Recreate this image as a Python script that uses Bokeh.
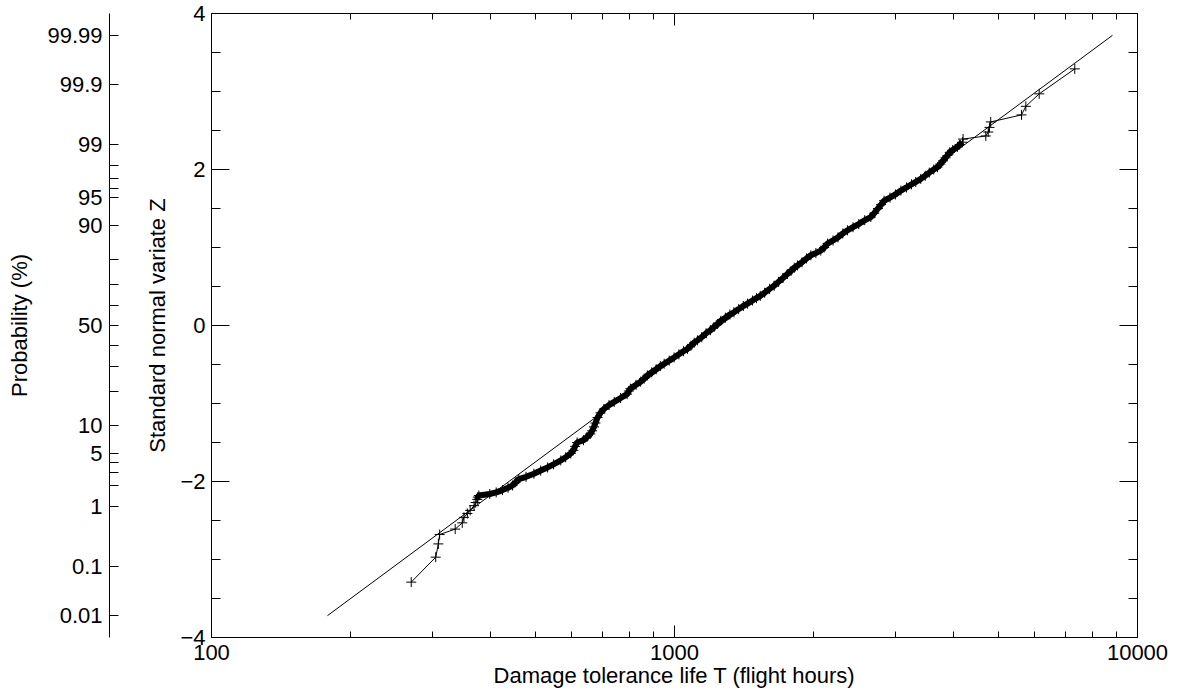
from statistics import NormalDist

from bokeh.plotting import figure
from bokeh.models import Range1d, LinearAxis, LogAxis, FixedTicker, CustomJSTickFormatter
from bokeh.embed import file_html
from bokeh.resources import INLINE

# ---------------- data ----------------
# damage tolerance life (flight hours), sorted, and its standard normal variate
life_hours = [270, 305, 309, 311, 336, 348, 351, 357, 362, 369,
              372, 375, 376, 378, 399, 412, 425, 437, 447, 454,
              461, 478, 497, 514, 532, 548, 568, 582, 597, 605,
              610, 616, 636, 647, 658, 664, 670, 675, 682, 692,
              704, 722, 741, 765, 790, 797, 803, 826, 845, 860,
              874, 893, 913, 932, 950, 974, 998, 1022, 1046, 1067,
              1085, 1103, 1121, 1145, 1170, 1196, 1217, 1238, 1259, 1288,
              1317, 1344, 1376, 1408, 1438, 1474, 1503, 1532, 1566, 1605,
              1641, 1678, 1715, 1753, 1785, 1815, 1844, 1885, 1928, 1970,
              2020, 2070, 2105, 2141, 2200, 2255, 2310, 2364, 2430, 2500,
              2575, 2655, 2700, 2750, 2795, 2836, 2920, 3000, 3083, 3170,
              3250, 3320, 3404, 3480, 3550, 3630, 3698, 3750, 3800, 3850,
              3887, 3930, 3990, 4086, 4130, 4188, 4200, 4703, 4760, 4790,
              4819, 5617, 5739, 6133, 7320]
z_value = [-3.29, -2.97, -2.80, -2.68, -2.61, -2.53, -2.46, -2.41, -2.37, -2.31,
           -2.27, -2.23, -2.20, -2.18, -2.16, -2.14, -2.11, -2.08, -2.05, -2.01,
           -1.97, -1.94, -1.90, -1.86, -1.82, -1.78, -1.73, -1.69, -1.64, -1.60,
           -1.55, -1.50, -1.47, -1.43, -1.39, -1.35, -1.30, -1.25, -1.18, -1.12,
           -1.07, -1.02, -0.98, -0.93, -0.88, -0.84, -0.81, -0.76, -0.72, -0.68,
           -0.64, -0.60, -0.56, -0.52, -0.49, -0.45, -0.41, -0.37, -0.33, -0.30,
           -0.26, -0.22, -0.19, -0.15, -0.10, -0.06, -0.02, 0.02, 0.06, 0.10,
           0.14, 0.17, 0.21, 0.25, 0.28, 0.32, 0.35, 0.38, 0.42, 0.47,
           0.51, 0.56, 0.61, 0.66, 0.70, 0.74, 0.77, 0.81, 0.86, 0.90,
           0.93, 0.96, 1.00, 1.05, 1.09, 1.13, 1.18, 1.22, 1.26, 1.30,
           1.35, 1.39, 1.44, 1.50, 1.55, 1.60, 1.64, 1.68, 1.73, 1.77,
           1.81, 1.84, 1.88, 1.92, 1.96, 2.00, 2.03, 2.07, 2.11, 2.15,
           2.18, 2.22, 2.25, 2.29, 2.32, 2.35, 2.39, 2.43, 2.48, 2.54,
           2.61, 2.70, 2.81, 2.97, 3.29]

# fitted log-normal line (end points)
fit_hours = [178, 8830]
fit_z = [-3.72, 3.72]

# tick definitions
x_major = [100, 1000, 10000]
x_labels = ["100", "1000", "10000"]
x_minor = [200, 300, 400, 500, 600, 700, 800, 900,
           2000, 3000, 4000, 5000, 6000, 7000, 8000, 9000]
z_major = [-4, -2, 0, 2, 4]
z_labels = ["\u22124", "\u22122", "0", "2", "4"]
z_minor = [-3.5, -3, -2.5, -1.5, -1, -0.5, 0.5, 1, 1.5, 2.5, 3, 3.5]
prob_labeled = [0.01, 0.1, 1, 5, 10, 50, 90, 95, 99, 99.9, 99.99]
prob_text = ["0.01", "0.1", "1", "5", "10", "50", "90", "95", "99", "99.9", "99.99"]
prob_unlabeled = [2, 3, 4, 20, 30, 40, 60, 70, 80, 96, 97, 98]

FONT = "Liberation Sans"
FS = "22px"
INK = "#000000"

p = figure(width=1186, height=694, x_axis_type="log",
           x_range=Range1d(100, 10000), y_range=Range1d(-4, 4),
           output_backend="svg", toolbar_location=None,
           min_border_left=211, min_border_right=49,
           min_border_top=13, min_border_bottom=57)
p.outline_line_color = None
p.xgrid.visible = False
p.ygrid.visible = False
p.background_fill_color = "white"
p.border_fill_color = "white"


def style(ax, major_in, minor_in):
    ax.axis_line_color = INK
    ax.axis_line_width = 1
    ax.major_tick_line_color = INK
    ax.minor_tick_line_color = INK
    ax.major_tick_in = major_in
    ax.major_tick_out = 0
    ax.minor_tick_in = minor_in
    ax.minor_tick_out = 0
    ax.major_label_text_font = FONT
    ax.major_label_text_font_size = FS
    ax.major_label_text_color = INK
    ax.axis_label_text_font = FONT
    ax.axis_label_text_font_size = FS
    ax.axis_label_text_font_style = "normal"
    ax.axis_label_text_color = INK


# bottom x axis
xa = p.xaxis[0]
xa.ticker = FixedTicker(ticks=x_major, minor_ticks=x_minor)
xa.major_label_overrides = {float(v): t for v, t in zip(x_major, x_labels)}
style(xa, 12, 6)
xa.major_label_standoff = 7
xa.axis_label = "Damage tolerance life T (flight hours)"
xa.axis_label_standoff = 0

# main left y axis
ya = p.yaxis[0]
ya.ticker = FixedTicker(ticks=z_major, minor_ticks=z_minor)
ya.major_label_overrides = {float(v): t for v, t in zip(z_major, z_labels)}
style(ya, 18, 9)
ya.major_label_standoff = 6
ya.axis_label = "Standard normal variate Z"
ya.axis_label_standoff = 7

blank = "return ''"

# mirror axes (top, right) with ticks only
top = LogAxis(ticker=FixedTicker(ticks=x_major, minor_ticks=x_minor),
              formatter=CustomJSTickFormatter(code=blank))
style(top, 12, 6)
top.major_label_standoff = 0
top.major_label_text_font_size = "1px"
p.add_layout(top, "above")

right = LinearAxis(ticker=FixedTicker(ticks=z_major, minor_ticks=z_minor),
                   formatter=CustomJSTickFormatter(code=blank))
style(right, 18, 9)
right.major_label_standoff = 0
right.major_label_text_font_size = "1px"
p.add_layout(right, "right")

# spacer between the two left axes (one invisible tick gives it width)
spacer = LinearAxis(ticker=FixedTicker(ticks=[0], minor_ticks=[]),
                    formatter=CustomJSTickFormatter(code=blank))
spacer.axis_line_color = None
spacer.major_tick_line_color = None
spacer.minor_tick_line_color = None
spacer.major_tick_out = 33
spacer.major_tick_in = 0
spacer.minor_tick_out = 0
spacer.major_label_standoff = 0
spacer.major_label_text_font_size = "1px"
p.add_layout(spacer, "left")

# probability axis
nd = NormalDist()
prob_z = [nd.inv_cdf(v / 100.0) for v in prob_labeled + prob_unlabeled]
overrides = {}
for v, t in zip(prob_labeled, prob_text):
    overrides[nd.inv_cdf(v / 100.0)] = t
for v in prob_unlabeled:
    overrides[nd.inv_cdf(v / 100.0)] = ""
pa = LinearAxis(ticker=FixedTicker(ticks=prob_z, minor_ticks=[]))
style(pa, 9, 0)
pa.major_label_overrides = overrides
pa.major_label_standoff = 7
pa.axis_label = "Probability (%)"
pa.axis_label_standoff = 12
p.add_layout(pa, "left")

# glyphs
p.line(fit_hours, fit_z, line_color=INK, line_width=1)
p.line(life_hours, z_value, line_color=INK, line_width=1)
# the dense central part of the sample forms a solid band of overlapping crosses
band = [(h, z) for h, z in zip(life_hours, z_value) if -2.25 <= z <= 2.36]
p.line([b[0] for b in band], [b[1] for b in band], line_color=INK, line_width=6)
p.scatter(life_hours, z_value, marker="cross", size=10, line_color=INK, line_width=1)

open("out.html", "w").write(file_html(p, INLINE))
